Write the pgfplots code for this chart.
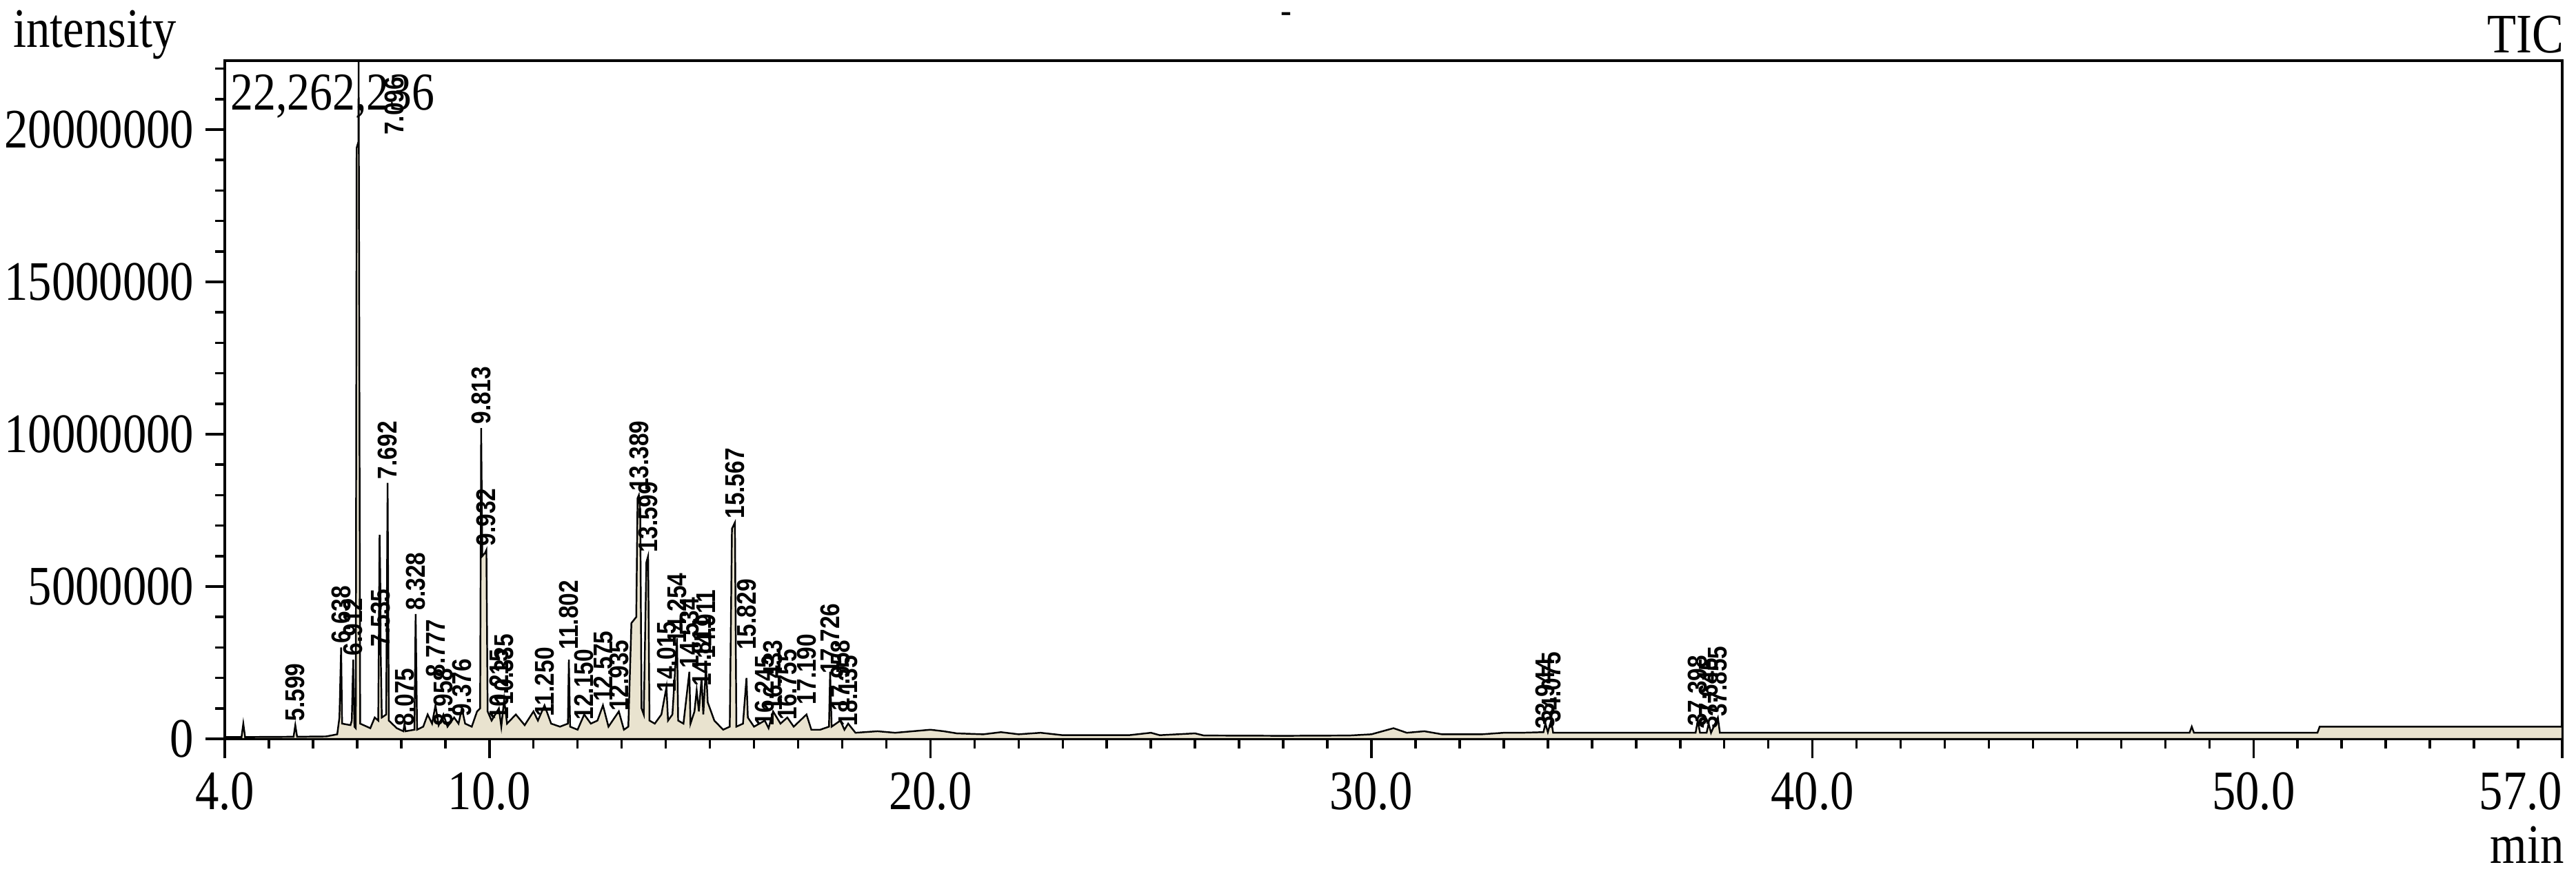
\documentclass[border=0pt]{standalone}
\usepackage{fontspec}
\setmainfont{Liberation Serif}[FakeStretch=0.85]
\newfontfamily\lblfont{Liberation Sans}[FakeStretch=0.85]
\usepackage{pgfplots}
\usepackage{pgfplotstable}
\pgfplotsset{compat=1.18}
\definecolor{peakfill}{HTML}{E9E3CF}

% TIC trace, retention time (min) vs intensity
\pgfplotstableread{
t y
4.00 60000
4.38 60000
4.42 500000
4.46 60000
5.56 70000
5.599 450000
5.64 70000
6.30 80000
6.55 150000
6.60 700000
6.638 3000000
6.66 500000
6.85 450000
6.88 600000
6.912 2600000
6.94 400000
6.97 350000
6.99 19400000
7.03 19600000
7.035 22262236
7.04 19500000
7.07 500000
7.30 350000
7.40 700000
7.48 600000
7.51 6700000
7.525 5300000
7.535 2900000
7.56 700000
7.66 800000
7.692 8400000
7.72 600000
7.90 350000
8.05 250000
8.075 500000
8.10 250000
8.30 300000
8.328 4100000
8.36 300000
8.50 400000
8.60 800000
8.70 500000
8.777 1100000
8.85 450000
8.958 800000
9.05 400000
9.20 700000
9.30 500000
9.376 1000000
9.45 500000
9.60 400000
9.72 900000
9.79 1000000
9.813 10200000
9.84 6000000
9.90 6100000
9.932 6200000
9.96 900000
10.05 600000
10.215 1000000
10.27 400000
10.335 1300000
10.40 500000
10.60 800000
10.80 450000
11.00 900000
11.10 600000
11.250 1100000
11.40 500000
11.60 400000
11.78 500000
11.802 2600000
11.83 400000
12.00 300000
12.150 800000
12.30 500000
12.45 600000
12.575 1100000
12.70 400000
12.935 900000
13.05 300000
13.15 400000
13.22 3800000
13.33 4000000
13.36 7900000
13.389 8000000
13.42 7500000
13.45 1000000
13.50 800000
13.56 5800000
13.599 6000000
13.63 600000
13.75 500000
13.90 800000
14.015 1700000
14.05 600000
14.15 800000
14.254 3300000
14.28 600000
14.40 500000
14.534 2200000
14.56 500000
14.65 900000
14.70 1600000
14.75 900000
14.811 2000000
14.85 800000
14.911 2400000
14.95 1200000
15.10 600000
15.30 300000
15.45 400000
15.50 6900000
15.567 7100000
15.60 400000
15.75 500000
15.829 2000000
15.86 700000
16.00 400000
16.245 600000
16.33 350000
16.433 900000
16.60 500000
16.755 700000
16.90 400000
17.190 800000
17.30 300000
17.50 300000
17.70 400000
17.726 2200000
17.76 400000
17.958 600000
18.05 300000
18.135 500000
18.30 200000
18.80 250000
19.20 200000
19.60 250000
20.00 300000
20.30 250000
20.60 180000
21.20 150000
21.60 220000
22.00 150000
22.50 200000
23.00 120000
24.50 120000
25.00 200000
25.20 120000
26.00 180000
26.20 110000
28.00 100000
29.50 110000
30.00 150000
30.50 350000
30.80 200000
31.20 250000
31.60 150000
32.50 150000
33.00 200000
33.40 200000
33.90 220000
33.944 500000
34.00 220000
34.075 600000
34.12 200000
37.35 200000
37.398 600000
37.45 200000
37.60 200000
37.645 500000
37.70 200000
37.855 700000
37.90 200000
48.55 200000
48.60 400000
48.65 200000
51.45 200000
51.50 400000
57.00 400000
}\tic

% peak labels: position and text
\pgfplotstableread{
t y lab
5.599 450000 5.599
6.638 3000000 6.638
6.912 2600000 6.912
7.85 19700000 7.096
7.535 2900000 7.535
7.692 8400000 7.692
8.075 300000 8.075
8.328 4100000 8.328
8.777 1900000 8.777
8.958 300000 8.958
9.376 600000 9.376
9.813 10200000 9.813
9.932 6200000 9.932
10.215 500000 10.215
10.335 1000000 10.335
11.250 600000 11.250
11.802 2800000 11.802
12.150 500000 12.150
12.575 1100000 12.575
12.935 800000 12.935
13.389 8000000 13.389
13.599 6000000 13.599
14.015 1400000 14.015
14.254 3000000 14.254
14.534 2200000 14.534
14.811 1600000 14.811
14.911 2500000 14.911
15.567 7100000 15.567
15.829 2800000 15.829
16.245 300000 16.245
16.433 800000 16.433
16.755 500000 16.755
17.190 1000000 17.190
17.726 2000000 17.726
17.958 800000 17.958
18.135 300000 18.135
33.944 200000 33.944
34.075 400000 34.075
37.398 300000 37.398
37.645 200000 37.645
37.855 600000 37.855
}\peaks

\begin{document}
\begin{tikzpicture}
\begin{axis}[
  name=ax,
  scale only axis,
  width=16.95cm, height=4.92cm,
  xmin=4, xmax=57, ymin=0, ymax=22262236,
  axis line style={line width=0.7pt},
  tick align=outside,
  xtick pos=bottom, ytick pos=left,
  xtick={4,10,20,30,40,50,57},
  xticklabels={4.0,10.0,20.0,30.0,40.0,50.0,\llap{57.0}},
  minor xtick={5,6,7,8,9,11,12,13,14,15,16,17,18,19,21,22,23,24,25,26,27,28,29,31,32,33,34,35,36,37,38,39,41,42,43,44,45,46,47,48,49,51,52,53,54,55,56},
  ytick={0,5000000,10000000,15000000,20000000},
  minor ytick={1e6,2e6,3e6,4e6,6e6,7e6,8e6,9e6,11e6,12e6,13e6,14e6,16e6,17e6,18e6,19e6,21e6,22e6},
  scaled y ticks=false,
  yticklabel style={xshift=0.04cm, /pgf/number format/.cd, fixed, precision=0, 1000 sep={}},
  /pgf/number format/assume math mode=true,
  tick label style={font=\fontsize{11.5}{12}\selectfont},
  xticklabel style={yshift=0.02cm},
  major tick length=0.14cm, minor tick length=0.07cm,
  tick style={black, line width=0.5pt},
  clip=false,
]
\addplot[draw=black, line width=0.35pt, fill=peakfill] table[x=t, y=y]{\tic} \closedcycle;
\addplot[draw=none, mark=none, nodes near coords, point meta=explicit symbolic,
  every node near coord/.append style={font=\lblfont\bfseries\fontsize{5.6}{6}\selectfont,
    rotate=90, anchor=west, inner sep=0.6pt, black}]
  table[x=t, y=y, meta=lab]{\peaks};
\node[anchor=north west, inner sep=1pt, font=\fontsize{11}{12}\selectfont, xshift=0.0cm, yshift=-0.06cm] at (rel axis cs:0,1) {22,262,236};
\node[anchor=west, inner sep=0pt, font=\fontsize{11.5}{12}\selectfont, xshift=-1.54cm, yshift=0.19cm] at (rel axis cs:0,1) {intensity};
\node[anchor=east, inner sep=0pt, font=\fontsize{11.5}{12}\selectfont, xshift=0.02cm, yshift=0.19cm] at (rel axis cs:1,1) {TIC};
\node[anchor=east, inner sep=0pt, font=\fontsize{11.5}{12}\selectfont, xshift=0.02cm, yshift=-0.77cm] at (rel axis cs:1,0) {min};
\node[inner sep=0pt, font=\fontsize{8}{9}\selectfont, yshift=0.31cm] at (rel axis cs:0.454,1) {-};
\end{axis}
\pgfresetboundingbox
\path[use as bounding box] ([xshift=-1.63cm, yshift=-0.99cm]ax.south west) rectangle ([xshift=0.1cm, yshift=0.44cm]ax.north east);
\end{tikzpicture}
\end{document}
